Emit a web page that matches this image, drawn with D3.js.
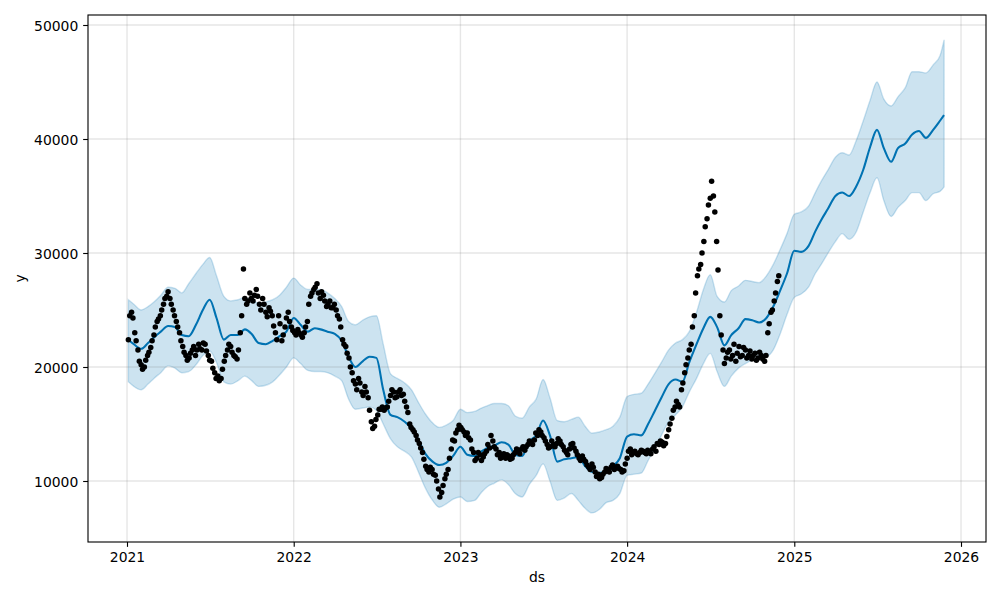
<!DOCTYPE html>
<html>
<head>
<meta charset="utf-8">
<script src="https://cdn.jsdelivr.net/npm/d3@7"></script>
<style>
  body { margin: 0; background: #fff; }
  svg { display: block; }
</style>
</head>
<body>
<svg id="chart" width="1000" height="600"></svg>
<script>
// ---------------- DATA ----------------
// Observed points: two per week (Monday and Thursday), starting at obsStart
const obsStart = "2021-01-04";
const obsValuesMon = [
  // 2021
  22400, 24800, 23000, 21500, 20200, 20000, 21000, 21700, 22800, 24000,
  24500, 25500, 26200, 26000, 25000, 24000, 23000, 21800, 21000, 20800,
  21500, 21000, 22000, 21500, 22000, 21000, 20500, 19500, 19200, 19000,
  20500, 21500, 21800, 21000, 20700, 23000, 28600, 25500, 26500, 25800,
  26800, 25500, 26000, 24800, 25200, 24500, 23000, 24500, 22300, 23500,
  24800, 23500,
  // 2022
  23000, 23300, 22800, 23000, 24000, 26200, 26800, 27300, 26000, 26300,
  25300, 25800, 25200, 25000, 24200, 22400, 21800, 20800, 19500, 18500,
  19000, 17800, 18300, 17300, 15200, 14800, 15800, 16300, 16200, 16500,
  17500, 17800, 17400, 18000, 17600, 16500, 15000, 14500, 14000, 13300,
  12500, 11300, 10800, 11000, 10500, 9300, 9000, 10200, 11000, 12800,
  13500, 14500,
  // 2023
  14700, 14300, 14200, 13600, 12500, 12000, 12300, 12100, 12600, 12900,
  13500, 12800, 12500, 12200, 12000, 12200, 12000, 12500, 12600, 12800,
  12700, 13200, 13400, 13600, 14000, 14300, 13800, 13200, 13000, 13200,
  13300, 13500, 13000, 12500, 12800, 13300, 12600, 12000, 12200, 11700,
  11200, 11500, 10800, 10600, 10300, 10800, 11000, 11200, 11000, 11300,
  11000, 10900,
  // 2024
  12000, 12800, 12500, 12400, 12500, 12600, 12400, 12500, 12800, 12600,
  13200, 13400, 13300, 14500, 15500, 16500, 16700, 18000, 19500, 20800,
  22000, 24500, 28000, 29000, 31000, 33000, 34800, 35000, 31000, 24500,
  21500, 20800, 21500, 21000, 20500, 21800, 21000, 21500, 21000, 20700,
  21200, 20800, 21000, 20500, 23000, 24800, 25800, 27500
];
const obsValuesThu = [
  // 2021
  24500, 24300, 22300, 20500, 19800, 20600, 21300, 22300, 23500, 24200,
  25000, 26000, 26600, 25500, 24500, 23500, 22300, 21300, 20600, 21200,
  21800, 21500, 21600, 22100, 21400, 20600, 19900, 19000, 18800, 19800,
  21000, 22000, 21300, 20900, 21500, 24500, 26000, 25800, 26000, 26300,
  26200, 25000, 25500, 24400, 24900, 23600, 22400, 23800, 22800, 24300,
  24000, 23200,
  // 2022
  22800, 23000, 22600, 23500, 25500, 26500, 27000, 26500, 26600, 25800,
  25500, 25200, 25500, 24500, 23500, 22000, 21200, 20000, 18800, 18000,
  18600, 17500, 17800, 16200, 14600, 15400, 16300, 16500, 16400, 17000,
  18000, 17300, 17800, 17500, 17000, 16000, 14700, 14300, 13600, 12900,
  11900, 11000, 11200, 10600, 10000, 8600, 9600, 10600, 12000, 13600,
  14200, 14900,
  // 2023
  14500, 14000, 13800, 12800, 11800, 12500, 11800, 12400, 13200, 14000,
  13000, 12300, 12000, 12400, 12300, 11900, 12300, 12800, 12400, 13000,
  13000, 13500, 13200, 14200, 14500, 14000, 13500, 12900, 13500, 13000,
  13700, 13200, 12700, 12300, 13200, 12900, 12300, 11800, 11900, 11400,
  11000, 11200, 10400, 10200, 10600, 11100, 10800, 11400, 11200, 11100,
  10800, 11500,
  // 2024
  12600, 12300, 12600, 12300, 12700, 12500, 12700, 12400, 13000, 13300,
  13500, 13100, 13900, 15000, 16200, 17000, 16500, 18600, 20200, 21500,
  23500, 26500, 28600, 30000, 32300, 34200, 36300, 33600, 28500, 22800,
  20300, 21300, 20700, 22000, 21200, 20900, 21700, 20800, 21400, 21000,
  20600, 21300, 20700, 21000, 23800, 25000, 26500, 28000
];

// Forecast: sampled on the 1st and 16th of each month, from fcStart to fcEnd
const fcStart = "2021-01-04";
const fcEnd = "2025-11-25";
const yhat = [
  22400, 22000, 21600, 22100, 22600, 23100, 23600, 23500, 22800, 22700, 23700, 25000,
  25900, 24300, 22400, 22800, 22800, 23300, 22900, 22100, 22000, 22300, 22700, 23100,
  24300, 23700, 23100, 23400, 23300, 23100, 22900, 22300, 20900, 20000, 20500, 20900,
  20800, 18000, 15800, 15600, 15200, 14600, 13600, 12400, 11700, 11400, 11600, 12200,
  13000, 12300, 12200, 12600, 12900, 13100, 13400, 13200, 12300, 12200, 13500, 14000,
  15300, 14000, 11700, 11900, 12000, 12100, 11300, 10800, 10700, 10900, 11300, 12000,
  13900, 14100, 14000, 15000, 16100, 17300, 18500, 18900, 18700, 20400, 22000, 23400,
  24400, 23500, 21900, 22800, 23400, 24200, 24100, 23900, 24300, 25300, 26700, 28200,
  30200, 30100, 30600, 31900, 32900, 33900, 35000, 35300, 35000, 35800, 37300, 39300,
  40800, 39200, 38000, 39200, 39600, 40400, 40700, 40100, 40800, 41600, 42100
];
const yhatUpper = [
  25900, 25500, 25000, 25300, 25700, 26300, 27000, 26900, 26500, 27300, 28200, 29000,
  29600, 28000, 26200, 25800, 25900, 26100, 25900, 25600, 25700, 25900, 26300, 27000,
  27800, 27200, 26800, 26800, 26800, 26500, 26000, 25300, 24000, 23700, 24100, 24400,
  24500, 22000, 19400, 19000, 18600, 18000, 16900, 15900, 15100, 14700, 14900, 15300,
  16300, 16000, 16100, 16400, 16600, 16800, 16800, 16600, 15700, 15500, 16500, 17200,
  18900, 17300, 15300, 15200, 15400, 15600, 14800, 14200, 14300, 14500, 14800, 15600,
  17400, 17600, 17700, 18500, 19400, 20400, 21500, 22100, 22400, 23100, 24800, 26800,
  28100, 26200, 25700, 26700, 27100, 27600, 27500, 27400, 28000, 29000, 30300, 31700,
  33400, 33600, 34100, 35300, 36300, 37300, 38400, 38800, 38600, 39800, 41600, 43400,
  45000, 43500, 42900, 43700, 44500, 45900, 45900, 45800, 46500, 47300, 48700
];
const yhatLower = [
  18700, 18300, 18000, 18500, 19000, 19500, 20100, 19900, 19500, 19600, 20200, 21000,
  21400, 20400, 18700, 18500, 18800, 19200, 18800, 18300, 18400, 18700, 19300, 20000,
  20800, 20300, 19700, 19600, 19600, 19500, 19200, 18800, 17200, 16300, 16400, 16500,
  16200, 15000, 13700, 13000, 12600, 12100, 10800, 9400, 8300, 7700, 8000, 8400,
  8600, 8200, 8300, 9000, 9500, 9800, 10100, 9700, 8900, 8600, 9700, 10500,
  11500, 10000, 8300, 8500, 8900, 8300, 7600, 7200, 7500, 8100, 8300, 8900,
  10500, 10600, 10700, 11800, 12800, 14000, 15200, 15800, 16500, 17800, 19000, 20300,
  21200, 19600, 18300, 19200, 19900, 20300, 20600, 20800, 20900, 21500, 22900, 24600,
  26100, 26400, 27000, 28200, 29000, 30000, 31000, 31700, 31200, 31800, 33600, 35300,
  36600, 34600, 33200, 34000, 34600, 35300, 35300, 34600, 35200, 35400, 35800
];

const xTickLabels = ["2021", "2022", "2023", "2024", "2025", "2026"];
const yTickValues = [10000, 20000, 30000, 40000, 50000];
const xLabel = "ds";
const yLabel = "y";

// ---------------- BUILD ----------------
const parse = d3.utcParse("%Y-%m-%d");
const plot = { left: 88, right: 986, top: 15, bottom: 542 };
const FONT = "DejaVu Sans";
const FS = 13.9;

const x = d3.scaleUtc()
  .domain([parse("2021-01-01"), parse("2026-01-01")])
  .range([127, 961]);
const y = d3.scaleLinear()
  .domain([10000, 50000])
  .range([481, 25]);

// observations
const s0 = parse(obsStart);
const obs = obsValuesMon.map((v, i) => ({ date: d3.utcDay.offset(s0, 7 * i), value: v }))
  .concat(obsValuesThu.map((v, i) => ({ date: d3.utcDay.offset(s0, 7 * i + 3), value: v })));

// forecast dates
const fcDates = [];
for (let yr = 2021; yr <= 2025; yr++) {
  for (let m = 0; m < 12; m++) {
    fcDates.push(new Date(Date.UTC(yr, m, 1)));
    fcDates.push(new Date(Date.UTC(yr, m, 16)));
  }
}
fcDates.length = yhat.length - 1;
fcDates[0] = parse(fcStart);
fcDates.push(parse(fcEnd));
const fc = fcDates.map((d, i) => ({ date: d, yhat: yhat[i], lo: yhatLower[i], hi: yhatUpper[i] }));

const svg = d3.select("#chart");
svg.append("rect").attr("width", 1000).attr("height", 600).attr("fill", "#fff");

svg.append("clipPath").attr("id", "clip").append("rect")
  .attr("x", plot.left).attr("y", plot.top)
  .attr("width", plot.right - plot.left).attr("height", plot.bottom - plot.top);

const g = svg.append("g").attr("clip-path", "url(#clip)");

// uncertainty band
const area = d3.area()
  .x(d => x(d.date))
  .y0(d => y(d.lo))
  .y1(d => y(d.hi))
  .curve(d3.curveMonotoneX);
g.append("path")
  .datum(fc)
  .attr("d", area)
  .attr("fill", "#0072B2").attr("fill-opacity", 0.2)
  .attr("stroke", "#0072B2").attr("stroke-opacity", 0.2)
  .attr("stroke-width", 1.39);

// grid
const yearDates = xTickLabels.map(t => parse(t + "-01-01"));
g.selectAll("line.vgrid").data(yearDates).join("line")
  .attr("class", "vgrid")
  .attr("x1", d => x(d)).attr("x2", d => x(d))
  .attr("y1", plot.top).attr("y2", plot.bottom)
  .attr("stroke", "#808080").attr("stroke-opacity", 0.2).attr("stroke-width", 1.39);
g.selectAll("line.hgrid").data(yTickValues).join("line")
  .attr("class", "hgrid")
  .attr("x1", plot.left).attr("x2", plot.right)
  .attr("y1", d => y(d)).attr("y2", d => y(d))
  .attr("stroke", "#808080").attr("stroke-opacity", 0.2).attr("stroke-width", 1.39);

// forecast line
const line = d3.line()
  .x(d => x(d.date))
  .y(d => y(d.yhat))
  .curve(d3.curveMonotoneX);
g.append("path")
  .datum(fc)
  .attr("d", line)
  .attr("fill", "none")
  .attr("stroke", "#0072B2")
  .attr("stroke-width", 2.08)
  .attr("stroke-linejoin", "round");

// observed points
g.selectAll("circle.obs").data(obs).join("circle")
  .attr("class", "obs")
  .attr("cx", d => x(d.date))
  .attr("cy", d => y(d.value))
  .attr("r", 2.75)
  .attr("fill", "#000");

// axes
const xAxis = d3.axisBottom(x)
  .tickValues(yearDates)
  .tickFormat((d, i) => xTickLabels[i])
  .tickSize(4.86).tickPadding(4.86).tickSizeOuter(0);
const gx = svg.append("g").attr("transform", `translate(0,${plot.bottom})`).call(xAxis);
gx.select(".domain").remove();
gx.selectAll(".tick line").attr("stroke", "#000").attr("stroke-width", 1.11);
gx.selectAll(".tick text").attr("font-family", FONT).attr("font-size", FS).attr("fill", "#000");

const yAxis = d3.axisLeft(y)
  .tickValues(yTickValues)
  .tickFormat(d3.format("d"))
  .tickSize(4.86).tickPadding(4.86).tickSizeOuter(0);
const gy = svg.append("g").attr("transform", `translate(${plot.left},0)`).call(yAxis);
gy.select(".domain").remove();
gy.selectAll(".tick line").attr("stroke", "#000").attr("stroke-width", 1.11);
gy.selectAll(".tick text").attr("font-family", FONT).attr("font-size", FS).attr("fill", "#000")
  .attr("dy", "0.36em");

// frame
svg.append("rect")
  .attr("x", plot.left).attr("y", plot.top)
  .attr("width", plot.right - plot.left).attr("height", plot.bottom - plot.top)
  .attr("fill", "none").attr("stroke", "#000").attr("stroke-width", 1.11);

// axis labels
svg.append("text")
  .attr("x", (plot.left + plot.right) / 2).attr("y", 582)
  .attr("text-anchor", "middle")
  .attr("font-family", FONT).attr("font-size", FS)
  .text(xLabel);
svg.append("text")
  .attr("transform", `translate(25,${(plot.top + plot.bottom) / 2}) rotate(-90)`)
  .attr("text-anchor", "middle")
  .attr("font-family", FONT).attr("font-size", FS)
  .text(yLabel);
</script>
</body>
</html>
